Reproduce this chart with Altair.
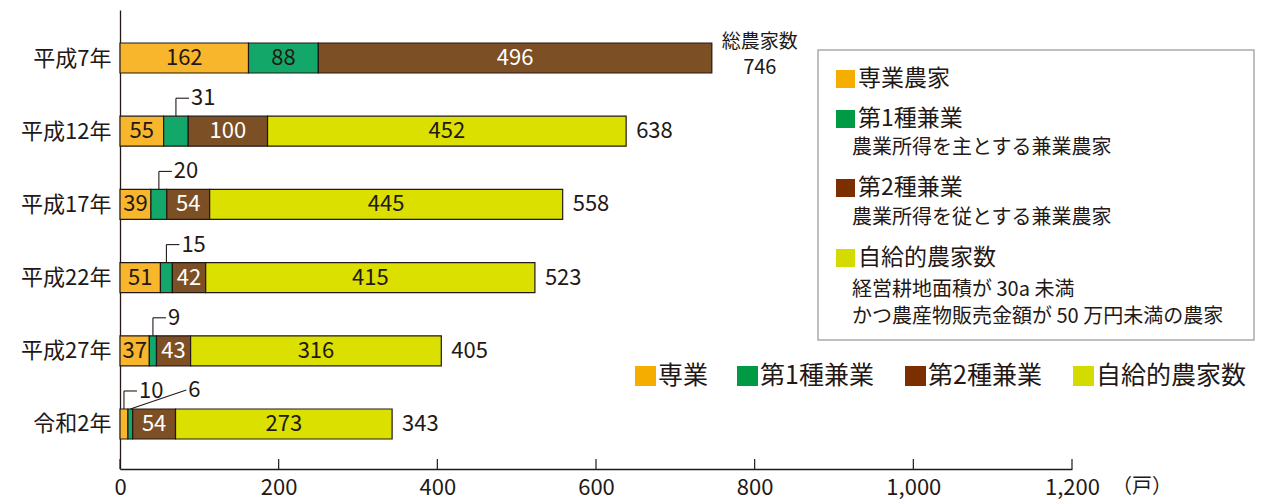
import json
import altair as alt
import pandas as pd

# ---------------- data ----------------
categories = ["平成7年", "平成12年", "平成17年", "平成22年", "平成27年", "令和2年"]
segments = ["専業", "第1種兼業", "第2種兼業", "自給的農家数"]
sengyo = [162, 55, 39, 51, 37, 10]
kengyo1 = [88, 31, 20, 15, 9, 6]
kengyo2 = [496, 100, 54, 42, 43, 54]
jikyu = [None, 452, 445, 415, 316, 273]
totals = [746, 638, 558, 523, 405, 343]
total_title = "総農家数"
x_ticks = [0, 200, 400, 600, 800, 1000, 1200]
unit_label = "（戸）"

box_titles = ["専業農家", "第1種兼業", "第2種兼業", "自給的農家数"]
box_notes = [[], ["農業所得を主とする兼業農家"], ["農業所得を従とする兼業農家"],
             ["経営耕地面積が 30a 未満", "かつ農産物販売金額が 50 万円未満の農家"]]

# ---------------- style ----------------
FONT = "Noto Sans CJK JP"
INK = "#231815"
bar_colors = ["#F8B62D", "#13A86A", "#7C4F24", "#DCE000"]
legend_colors = ["#F5AE00", "#009944", "#7B2E00", "#D4DB00"]

W, H = 952, 459
X_DOMAIN = [0, 1200]
Y_DOMAIN = [-0.656, 5.615]
PX_X = W / (X_DOMAIN[1] - X_DOMAIN[0])
PX_Y = H / (Y_DOMAIN[1] - Y_DOMAIN[0])
HALF = 15 / PX_Y
NUM = 22

# ---------------- tables ----------------
rows = []
for i, cat in enumerate(categories):
    start = 0
    for s, vals in zip(segments, [sengyo, kengyo1, kengyo2, jikyu]):
        v = vals[i]
        if v is None:
            continue
        rows.append(dict(cat=cat, idx=i, seg=s, value=v, start=start, end=start + v,
                         mid=start + v / 2, y0=i - HALF, y1=i + HALF))
        start += v
df = pd.DataFrame(rows)
df["inside"] = df["value"] >= 35

lines, ctexts = [], []
for i in range(len(categories)):
    small = df[(df.idx == i) & (~df.inside)]
    for k, (_, r) in enumerate(small.iterrows()):
        ytop = i - HALF
        if k == 0:
            yl = ytop - 18 / PX_Y
            xe = r.mid + 13 / PX_X
            lines.append(dict(x=r.mid, x2=r.mid, y=ytop, y2=yl))
            lines.append(dict(x=r.mid, x2=xe, y=yl, y2=yl))
        else:
            yl = ytop - 19 / PX_Y
            xe = r.mid + 56 / PX_X
            lines.append(dict(x=r.mid, x2=xe, y=ytop, y2=yl))
        ctexts.append(dict(x=xe, y=yl, label=str(int(r.value))))
lines_df = pd.DataFrame(lines)
ctext_df = pd.DataFrame(ctexts)

tot_df = pd.DataFrame(dict(idx=list(range(len(categories))), total=totals,
                           label=[str(t) for t in totals]))

xs = alt.Scale(domain=X_DOMAIN, nice=False, zero=False)
ys = alt.Scale(domain=Y_DOMAIN, reverse=True, nice=False, zero=False)
label_expr = json.dumps(categories, ensure_ascii=False) + "[datum.value]"
x_axis = alt.Axis(values=x_ticks, labelExpr="format(datum.value, ',d')", ticks=False,
                  grid=False, labelFontSize=NUM, labelColor=INK, labelPadding=8,
                  domainColor=INK, domainWidth=1.3, labelFont=FONT,
                  labelFlush=False, labelOverlap=False, title=None)
y_axis = alt.Axis(values=list(range(len(categories))), labelExpr=label_expr,
                  ticks=False, grid=False, labelFontSize=22, labelColor=INK,
                  labelPadding=9, domainColor=INK, domainWidth=1.3,
                  labelFont=FONT, labelFlush=False, labelOverlap=False, title=None)


def X(f):
    return alt.X(f, type="quantitative", scale=xs, axis=x_axis, title=None)


def Y(f):
    return alt.Y(f, type="quantitative", scale=ys, axis=y_axis, title=None)


bars = alt.Chart(df).mark_rect(stroke=INK, strokeWidth=1.2).encode(
    x=X("start"), x2="end:Q", y=Y("y0"), y2="y1:Q",
    color=alt.Color("seg:N", scale=alt.Scale(domain=segments, range=bar_colors), legend=None),
)

seg_labels = alt.Chart(df).transform_filter(alt.datum.inside).mark_text(
    fontSize=NUM, font=FONT, baseline="middle", align="center"
).encode(
    x=X("mid"), y=Y("idx"), text="value:Q",
    color=alt.condition(alt.datum.seg == segments[2], alt.value("white"), alt.value(INK)),
)

leader = alt.Chart(lines_df).mark_rule(color=INK, strokeWidth=1.1).encode(
    x=X("x"), x2="x2:Q", y=Y("y"), y2="y2:Q",
)
leader_text = alt.Chart(ctext_df).mark_text(
    fontSize=NUM, font=FONT, color=INK, align="left", baseline="middle", dx=2
).encode(x=X("x"), y=Y("y"), text="label:N")

tot_labels = alt.Chart(tot_df).transform_filter(alt.datum.idx > 0).mark_text(
    fontSize=NUM, font=FONT, color=INK, align="left", baseline="middle", dx=10
).encode(x=X("total"), y=Y("idx"), text="label:N")

tot_first_title = alt.Chart(tot_df).transform_filter(alt.datum.idx == 0).mark_text(
    fontSize=19, font=FONT, color=INK, align="center", baseline="middle", dx=48, dy=-16
).encode(x=X("total"), y=Y("idx"), text=alt.value(total_title))
tot_first_value = alt.Chart(tot_df).transform_filter(alt.datum.idx == 0).mark_text(
    fontSize=20, font=FONT, color=INK, align="center", baseline="middle", dx=48, dy=10
).encode(x=X("total"), y=Y("idx"), text="label:N")

ticks = alt.Chart(pd.DataFrame(dict(t=x_ticks))).mark_rule(color=INK, strokeWidth=1.2).encode(
    x=X("t"), y=alt.value(H), y2=alt.value(H - 10)
)

one = pd.DataFrame(dict(a=[0]))
unit = alt.Chart(one).mark_text(fontSize=20, font=FONT, color=INK, align="center",
                                baseline="middle").encode(
    x=alt.value(1022), y=alt.value(477), text=alt.value(unit_label))

layers = [bars, seg_labels, leader, leader_text, tot_labels, tot_first_title,
          tot_first_value, ticks, unit]

# legend box (right)
layers.append(alt.Chart(one).mark_rect(fill="white", stroke="#AAAAAA", strokeWidth=1.5).encode(
    x=alt.value(698), x2=alt.value(1134), y=alt.value(40), y2=alt.value(330)))
title_y = [69, 109, 178, 248]
note_y = [[], [138], [208], [280, 307]]
for k in range(len(box_titles)):
    layers.append(alt.Chart(one).mark_rect(fill=legend_colors[k]).encode(
        x=alt.value(716), x2=alt.value(735), y=alt.value(title_y[k] - 9),
        y2=alt.value(title_y[k] + 9)))
    layers.append(alt.Chart(one).mark_text(fontSize=23, font=FONT, color=INK, align="left",
                                           baseline="middle").encode(
        x=alt.value(738), y=alt.value(title_y[k]), text=alt.value(box_titles[k])))
    for note, ny in zip(box_notes[k], note_y[k]):
        layers.append(alt.Chart(one).mark_text(fontSize=20, font=FONT, color=INK, align="left",
                                               baseline="middle").encode(
            x=alt.value(732), y=alt.value(ny), text=alt.value(note)))

# bottom legend row
leg_x = [515, 617, 785, 953]
for k in range(len(segments)):
    layers.append(alt.Chart(one).mark_rect(fill=legend_colors[k]).encode(
        x=alt.value(leg_x[k]), x2=alt.value(leg_x[k] + 21), y=alt.value(356),
        y2=alt.value(376)))
    layers.append(alt.Chart(one).mark_text(fontSize=25, font=FONT, color=INK, align="left",
                                           baseline="middle").encode(
        x=alt.value(leg_x[k] + 23), y=alt.value(366), text=alt.value(segments[k])))

chart = alt.layer(*layers).properties(
    width=W, height=H,
    autosize=alt.AutoSizeParams(type="none"),
    padding={"left": 112, "top": 2, "right": 183, "bottom": 30},
).configure(font=FONT).configure_view(strokeWidth=0)

chart.save("out.html", embed_options={"renderer": "svg", "actions": False})
